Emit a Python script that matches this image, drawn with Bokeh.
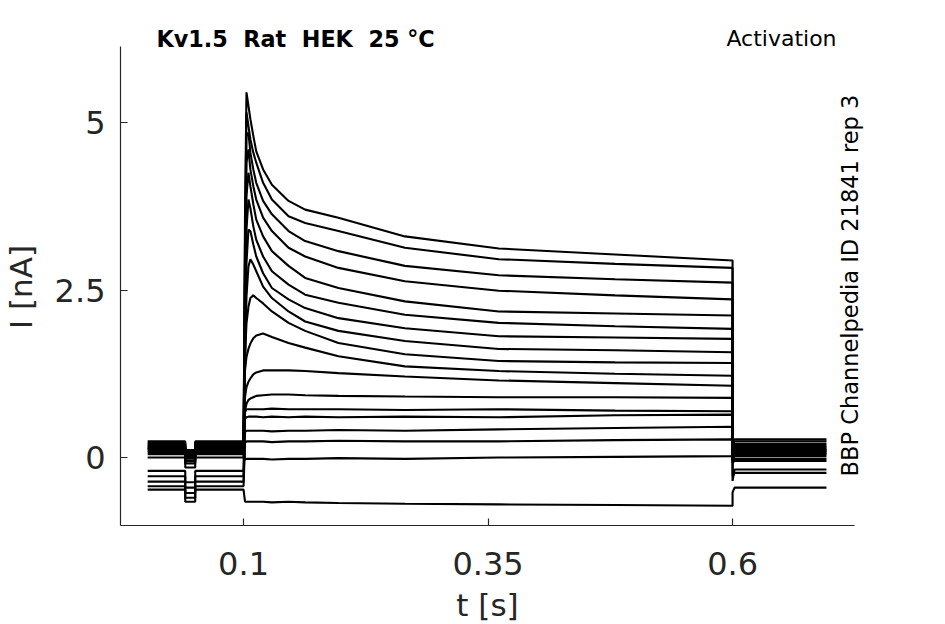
import math
from bokeh.plotting import figure
from bokeh.models import Label, Range1d, FixedTicker, LinearAxis
from bokeh.embed import file_html
from bokeh.resources import INLINE

# ---------------- data ----------------
# protocol time points [s]
T_START = 0.002
T_DIP_ON = 0.0404
T_DIP_OFF = 0.0506
T_STEP_ON = 0.1
TAIL_T = [0.6, 0.602, 0.696]

# sample times during the voltage step [s]
STEP_T = [0.1015, 0.103, 0.105, 0.107, 0.110, 0.113, 0.120, 0.129,
          0.146, 0.163, 0.197, 0.265, 0.361, 0.480, 0.600]

# current during the step [nA], one list per sweep (top to bottom)
SWEEP_01 = [3.60, 5.45, 5.25, 5.05, 4.80, 4.57, 4.30, 4.07, 3.83, 3.70, 3.58, 3.30, 3.12, 3.03, 2.94]
SWEEP_02 = [3.20, 5.15, 4.95, 4.75, 4.55, 4.40, 4.10, 3.85, 3.60, 3.50, 3.38, 3.13, 2.96, 2.89, 2.83]
SWEEP_03 = [2.90, 4.80, 4.85, 4.55, 4.30, 4.10, 3.83, 3.63, 3.38, 3.23, 3.08, 2.86, 2.72, 2.66, 2.61]
SWEEP_04 = [2.60, 4.40, 4.60, 4.30, 4.05, 3.85, 3.58, 3.38, 3.13, 3.00, 2.83, 2.63, 2.49, 2.42, 2.36]
SWEEP_05 = [2.30, 3.90, 4.25, 4.05, 3.78, 3.55, 3.30, 3.08, 2.86, 2.68, 2.53, 2.33, 2.18, 2.15, 2.12]
SWEEP_06 = [2.00, 3.40, 3.85, 3.72, 3.45, 3.25, 3.00, 2.78, 2.58, 2.43, 2.31, 2.13, 2.01, 1.96, 1.92]
SWEEP_07 = [1.70, 2.90, 3.40, 3.38, 3.18, 3.00, 2.75, 2.53, 2.36, 2.23, 2.08, 1.93, 1.81, 1.79, 1.77]
SWEEP_08 = [1.40, 2.40, 2.85, 2.96, 2.88, 2.78, 2.55, 2.38, 2.18, 2.03, 1.89, 1.74, 1.62, 1.60, 1.57]
SWEEP_09 = [1.50, 2.00, 2.25, 2.38, 2.42, 2.38, 2.30, 2.18, 2.01, 1.89, 1.71, 1.54, 1.44, 1.42, 1.41]
SWEEP_10 = [1.30, 1.50, 1.62, 1.70, 1.78, 1.82, 1.85, 1.80, 1.71, 1.64, 1.51, 1.36, 1.29, 1.25, 1.22]
SWEEP_11 = [0.90, 1.05, 1.13, 1.18, 1.24, 1.27, 1.30, 1.30, 1.30, 1.29, 1.26, 1.21, 1.15, 1.11, 1.07]
SWEEP_12 = [0.70, 0.80, 0.86, 0.88, 0.90, 0.92, 0.93, 0.94, 0.94, 0.93, 0.92, 0.91, 0.90, 0.90, 0.89]
SWEEP_13 = [0.68, 0.72, 0.72, 0.72, 0.72, 0.72, 0.72, 0.73, 0.72, 0.72, 0.72, 0.71, 0.72, 0.70, 0.69]
SWEEP_14 = [0.58, 0.60, 0.61, 0.61, 0.61, 0.61, 0.60, 0.61, 0.60, 0.61, 0.60, 0.61, 0.60, 0.63, 0.64]
SWEEP_15 = [0.38, 0.40, 0.40, 0.40, 0.40, 0.40, 0.40, 0.39, 0.40, 0.40, 0.41, 0.40, 0.42, 0.44, 0.46]
SWEEP_16 = [0.22, 0.24, 0.24, 0.24, 0.24, 0.24, 0.24, 0.23, 0.24, 0.24, 0.25, 0.24, 0.24, 0.26, 0.27]
SWEEP_17 = [-0.03, -0.02, -0.02, -0.02, -0.02, -0.02, -0.02, -0.03, -0.02, -0.02, -0.01, -0.02, 0.00, 0.01, 0.02]
SWEEP_18 = [-0.66, -0.66, -0.66, -0.66, -0.66, -0.66, -0.66, -0.67, -0.66, -0.67, -0.68, -0.69, -0.70, -0.71, -0.72]

# holding current before the step, during the short pre-pulse, and after the step [nA]
BASELINE = [0.12, 0.20, 0.15, 0.10, 0.24, 0.08, 0.17, 0.13, 0.05, 0.22,
            -0.20, 0.00, -0.28, 0.14, -0.36, -0.43, 0.18, -0.48]
DIP = [0.00, 0.06, 0.02, -0.04, 0.11, -0.06, 0.03, -0.01, -0.09, 0.08,
       -0.37, -0.15, -0.45, 0.00, -0.53, -0.60, 0.04, -0.66]
TAIL_ONSET = [-0.05, 0.00, -0.05, 0.02, 0.08, -0.02, 0.08, 0.04, -0.02, 0.18,
              -0.35, 0.03, -0.28, 0.10, -0.08, -0.05, 0.24, -0.52]
TAIL = [0.10, 0.15, 0.08, 0.12, 0.20, 0.05, 0.17, 0.10, 0.02, 0.24,
        -0.18, 0.06, -0.23, 0.13, -0.05, -0.02, 0.27, -0.45]

SWEEPS = [SWEEP_01, SWEEP_02, SWEEP_03, SWEEP_04, SWEEP_05, SWEEP_06,
          SWEEP_07, SWEEP_08, SWEEP_09, SWEEP_10, SWEEP_11, SWEEP_12,
          SWEEP_13, SWEEP_14, SWEEP_15, SWEEP_16, SWEEP_17, SWEEP_18]

X_TICKS = [0.1, 0.35, 0.6]
X_TICK_LABELS = ["0.1", "0.35", "0.6"]
Y_TICKS = [0, 2.5, 5]
Y_TICK_LABELS = ["0", "2.5", "5"]
X_TITLE = "t [s]"
Y_TITLE = "I [nA]"
TITLE = "Kv1.5 \u00a0Rat \u00a0HEK \u00a025 °C"
PROTOCOL = "Activation"
SOURCE = "BBP Channelpedia ID 21841 rep 3"

# ---------------- build traces ----------------
xs, ys = [], []
for i, sweep in enumerate(SWEEPS):
    b, d = BASELINE[i], DIP[i]
    x = [T_START, T_DIP_ON, T_DIP_ON, T_DIP_OFF, T_DIP_OFF, T_STEP_ON] + STEP_T + TAIL_T
    y = [b, b, d, d, b, b] + sweep + [TAIL_ONSET[i], TAIL[i], TAIL[i]]
    xs.append(x)
    ys.append(y)

FONT = "DejaVu Sans"
TXT = "#262626"

X0, X1 = -0.0258, 0.7247      # visible axis extents
Y0, Y1 = -1.015, 6.134

p = figure(frame_width=758, frame_height=514,
           x_range=Range1d(X0, 0.7492), y_range=Range1d(Y0, 6.657),
           output_backend="svg", toolbar_location=None,
           min_border_left=117, min_border_right=45,
           min_border_top=11, min_border_bottom=90)
p.outline_line_color = None
p.xgrid.visible = False
p.ygrid.visible = False
p.background_fill_color = "white"
p.border_fill_color = "white"

p.multi_line(xs, ys, line_color="black", line_width=2.1)

for ax in (p.xaxis[0], p.yaxis[0]):
    ax.axis_line_color = TXT
    ax.axis_line_width = 1.2
    ax.major_tick_line_color = TXT
    ax.major_tick_line_width = 1.2
    ax.major_tick_in = 7
    ax.major_tick_out = 0
    ax.minor_tick_line_color = None
    ax.major_label_text_font = FONT
    ax.major_label_text_font_size = "32px"
    ax.major_label_text_color = TXT

p.xaxis[0].bounds = (X0, X1)
p.yaxis[0].bounds = (Y0, Y1)
p.xaxis[0].ticker = FixedTicker(ticks=X_TICKS)
p.xaxis[0].major_label_overrides = {t: s for t, s in zip(X_TICKS, X_TICK_LABELS)}
p.yaxis[0].ticker = FixedTicker(ticks=Y_TICKS)
p.yaxis[0].major_label_overrides = {t: s for t, s in zip(Y_TICKS, Y_TICK_LABELS)}
p.xaxis[0].major_label_standoff = 26
p.yaxis[0].major_label_standoff = 15

# axis titles, centred on the visible axis extents
XT = (X0 + X1) / 2
YT = 2.545
xt_axis = LinearAxis(ticker=FixedTicker(ticks=[XT]), major_label_overrides={XT: X_TITLE},
                     axis_line_color=None, major_tick_line_color=None,
                     minor_tick_line_color=None, major_label_standoff=3,
                     major_label_text_font=FONT, major_label_text_font_size="31px",
                     major_label_text_color=TXT)
yt_axis = LinearAxis(ticker=FixedTicker(ticks=[YT]), major_label_overrides={YT: Y_TITLE},
                     axis_line_color=None, major_tick_line_color=None,
                     minor_tick_line_color=None, major_label_standoff=6,
                     major_label_orientation="parallel",
                     major_label_text_font=FONT, major_label_text_font_size="31px",
                     major_label_text_color=TXT)
p.add_layout(xt_axis, "below")
p.add_layout(yt_axis, "left")

p.add_layout(Label(x=0.0110, y=6.24, text=TITLE,
                   text_font=FONT, text_font_size="22.3px", text_font_style="bold",
                   text_color="black", text_align="left", text_baseline="middle"))
p.add_layout(Label(x=0.7063, y=6.25, text=PROTOCOL,
                   text_font=FONT, text_font_size="22px",
                   text_color="black", text_align="right", text_baseline="middle"))
p.add_layout(Label(x=0.7196, y=2.567, text=SOURCE,
                   angle=math.pi / 2, text_font=FONT, text_font_size="22.5px",
                   text_color="black", text_align="center", text_baseline="middle"))

open("out.html", "w").write(file_html(p, INLINE))
